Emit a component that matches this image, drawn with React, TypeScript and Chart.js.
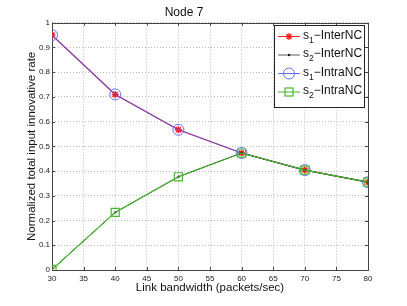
import React, { useEffect, useRef } from "react";
import { Chart, registerables } from "chart.js";

Chart.register(...registerables);

const bandwidth = [30, 40, 50, 60, 70, 80];
const s1Inter = [0.95, 0.71, 0.567, 0.473, 0.404, 0.355];
const s2Inter = [0.002, 0.233, 0.377, 0.473, 0.404, 0.355];
const s1Intra = [0.95, 0.71, 0.567, 0.473, 0.404, 0.355];
const s2Intra = [0.002, 0.233, 0.377, 0.473, 0.404, 0.355];

const titleText = "Node 7";
const xTitle = "Link bandwidth (packets/sec)";
const yTitle = "Normalized total input innovative rate";
const legendNames = [
  { base: "s", sub: "1", rest: "\u2212InterNC" },
  { base: "s", sub: "2", rest: "\u2212InterNC" },
  { base: "s", sub: "1", rest: "\u2212IntraNC" },
  { base: "s", sub: "2", rest: "\u2212IntraNC" },
];

const RED = "rgb(255,30,30)";
const BLACK = "rgb(20,20,20)";
const BLUE = "rgba(70,80,255,0.6)";
const BLUE_MK = "rgb(100,110,255)";
const GREEN = "rgb(70,185,45)";
const FONT = "'Liberation Sans', Arial, sans-serif";

const toXY = (ys: number[]) => bandwidth.map((x, i) => ({ x, y: ys[i] }));

const framePlugin = {
  id: "matlabFrame",
  beforeDatasetsDraw(chart: any) {
    const { ctx, chartArea: a, scales } = chart;
    ctx.save();
    ctx.strokeStyle = "#444";
    ctx.lineWidth = 1;
    ctx.beginPath();
    const xs = scales.x, ys = scales.y;
    for (const t of xs.ticks) {
      const px = Math.round(xs.getPixelForValue(t.value)) + 0.5;
      ctx.moveTo(px, a.bottom); ctx.lineTo(px, a.bottom - 3);
      ctx.moveTo(px, a.top); ctx.lineTo(px, a.top + 3);
    }
    for (const t of ys.ticks) {
      const py = Math.round(ys.getPixelForValue(t.value)) + 0.5;
      ctx.moveTo(a.left, py); ctx.lineTo(a.left + 3, py);
      ctx.moveTo(a.right, py); ctx.lineTo(a.right - 3, py);
    }
    ctx.stroke();
    ctx.strokeRect(Math.round(a.left) + 0.5, Math.round(a.top) + 0.5, Math.round(a.right - a.left), Math.round(a.bottom - a.top));
    ctx.restore();
  },
};

function drawMarker(ctx: CanvasRenderingContext2D, kind: number, x: number, y: number) {
  ctx.save();
  if (kind === 0) {
    ctx.strokeStyle = RED; ctx.fillStyle = RED; ctx.lineWidth = 1.3;
    const r = 3.5;
    ctx.beginPath();
    for (let k = 0; k < 4; k++) {
      const ang = (k * Math.PI) / 4;
      ctx.moveTo(x - r * Math.cos(ang), y - r * Math.sin(ang));
      ctx.lineTo(x + r * Math.cos(ang), y + r * Math.sin(ang));
    }
    ctx.stroke();
  } else if (kind === 1) {
    ctx.fillStyle = BLACK;
    ctx.beginPath(); ctx.arc(x, y, 1.2, 0, Math.PI * 2); ctx.fill();
  } else if (kind === 2) {
    ctx.strokeStyle = BLUE_MK; ctx.lineWidth = 1;
    ctx.beginPath(); ctx.arc(x, y, 5.5, 0, Math.PI * 2); ctx.stroke();
  } else {
    ctx.strokeStyle = GREEN; ctx.lineWidth = 1.2;
    ctx.strokeRect(x - 4, y - 4, 8, 8);
  }
  ctx.restore();
}

const legendPlugin = {
  id: "matlabLegend",
  afterDraw(chart: any) {
    const { ctx } = chart;
    const bx = 274.5, by = 25.5, bw = 90, bh = 82;
    ctx.save();
    ctx.fillStyle = "#fff";
    ctx.fillRect(bx, by, bw, bh);
    ctx.strokeStyle = "#222";
    ctx.lineWidth = 1;
    ctx.strokeRect(bx, by, bw, bh);
    const lineColors = [RED, "rgb(90,90,90)", BLUE_MK, GREEN];
    legendNames.forEach((n, i) => {
      const y = 36.5 + i * 18.5;
      ctx.strokeStyle = lineColors[i];
      ctx.lineWidth = 1;
      ctx.beginPath(); ctx.moveTo(278, y); ctx.lineTo(300, y); ctx.stroke();
      drawMarker(ctx, i, 289, y);
      ctx.fillStyle = "#111";
      ctx.textBaseline = "alphabetic";
      ctx.textAlign = "left";
      ctx.font = `12px ${FONT}`;
      let tx = 303;
      const base = y + 2;
      ctx.fillText(n.base, tx, base);
      tx += ctx.measureText(n.base).width;
      ctx.font = `8.5px ${FONT}`;
      ctx.fillText(n.sub, tx, base + 4);
      tx += ctx.measureText(n.sub).width;
      ctx.font = `12px ${FONT}`;
      ctx.fillText(n.rest, tx, base);
    });
    ctx.restore();
  },
};

export default function App() {
  const ref = useRef<HTMLCanvasElement | null>(null);
  useEffect(() => {
    if (!ref.current) return;
    const chart = new Chart(ref.current, {
      type: "line",
      data: {
        datasets: [
          {
            label: "s2-IntraNC", data: toXY(s2Intra), borderColor: GREEN, borderWidth: 1.2,
            pointStyle: "rect", pointRadius: 5.7, pointBorderColor: GREEN, pointBackgroundColor: "rgba(0,0,0,0)", pointBorderWidth: 1.2,
          },
          {
            label: "s2-InterNC", data: toXY(s2Inter), borderColor: BLACK, borderWidth: 1,
            pointStyle: "circle", pointRadius: 1.2, pointBorderWidth: 0, pointBackgroundColor: BLACK,
          },
          {
            label: "s1-IntraNC", data: toXY(s1Intra), borderColor: BLUE, borderWidth: 1.2,
            pointStyle: "circle", pointRadius: 5.5, pointBorderColor: BLUE_MK, pointBackgroundColor: "rgba(0,0,0,0)", pointBorderWidth: 1,
          },
          {
            label: "s1-InterNC", data: toXY(s1Inter), borderColor: "rgb(220,40,60)", borderWidth: 1.2,
            pointStyle: "star", pointRadius: 3.5, pointBorderColor: RED, pointBackgroundColor: RED, pointBorderWidth: 1.5,
          },
        ],
      },
      options: {
        animation: false,
        responsive: false,
        maintainAspectRatio: false,
        layout: { padding: { left: 0, right: 39, top: 0, bottom: 0 } },
        plugins: {
          legend: { display: false },
          tooltip: { enabled: false },
          title: {
            display: true, text: titleText, color: "#111",
            font: { family: FONT, size: 12, weight: "normal" },
            padding: { top: 5, bottom: 3.3 },
          },
        },
        scales: {
          x: {
            type: "linear", min: 30, max: 80,
            ticks: { stepSize: 5, color: "#222", font: { family: FONT, size: 8 }, padding: 4, maxRotation: 0 },
            grid: { color: "#bbb", drawTicks: false, lineWidth: 1 },
            border: { display: false, dash: [1, 2] },
            title: { display: true, text: xTitle, color: "#111", font: { family: FONT, size: 11.5 }, padding: { top: 0, bottom: 10.8 } },
            afterFit: (s: any) => { s.height = 36; },
          },
          y: {
            type: "linear", min: 0, max: 1,
            ticks: {
              stepSize: 0.1, color: "#222", font: { family: FONT, size: 8 }, padding: 2,
              callback: (v: any) => String(Number(Number(v).toFixed(1))),
            },
            grid: { color: "#bbb", drawTicks: false, lineWidth: 1 },
            border: { display: false, dash: [1, 2] },
            title: { display: true, text: yTitle, color: "#111", font: { family: FONT, size: 11.5 }, padding: { top: 24.6, bottom: 0 } },
            afterFit: (s: any) => { s.width = 52; },
          },
        },
      },
      plugins: [framePlugin, legendPlugin],
    } as any);
    return () => chart.destroy();
  }, []);
  return (
    <div style={{ position: "fixed", left: 0, top: 0, width: 407, height: 306, background: "#fff" }}>
      <canvas ref={ref} width={407} height={306} style={{ width: 407, height: 306, display: "block" }} />
    </div>
  );
}
